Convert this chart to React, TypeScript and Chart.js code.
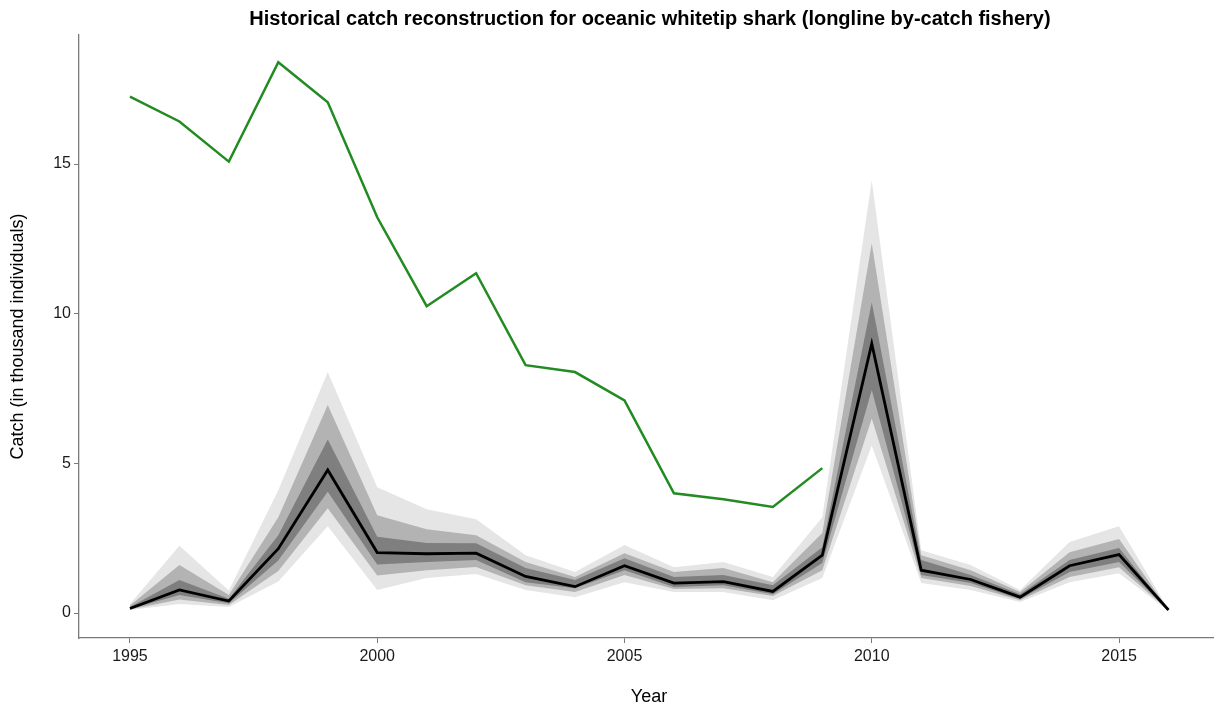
import React, { useEffect, useRef } from "react";
import { Chart, registerables } from "chart.js";

Chart.register(...registerables);

const years = [1995, 1996, 1997, 1998, 1999, 2000, 2001, 2002, 2003, 2004, 2005, 2006, 2007, 2008, 2009, 2010, 2011, 2012, 2013, 2014, 2015, 2016];

const median = [0.15, 0.77, 0.4, 2.15, 4.78, 2.02, 1.98, 2.0, 1.22, 0.88, 1.58, 1.0, 1.05, 0.72, 1.93, 9.0, 1.43, 1.12, 0.53, 1.58, 1.95, 0.1];

const lightUpper = [0.3, 2.25, 0.75, 4.1, 8.05, 4.2, 3.47, 3.13, 1.93, 1.37, 2.27, 1.53, 1.7, 1.2, 3.2, 14.45, 2.1, 1.6, 0.77, 2.37, 2.9, 0.12];
const mediumUpper = [0.25, 1.6, 0.6, 3.2, 6.95, 3.27, 2.8, 2.6, 1.7, 1.2, 2.0, 1.37, 1.5, 1.03, 2.67, 12.35, 1.93, 1.43, 0.7, 2.03, 2.47, 0.11];
const darkUpper = [0.2, 1.1, 0.48, 2.6, 5.8, 2.55, 2.34, 2.33, 1.5, 1.1, 1.83, 1.2, 1.27, 0.93, 2.2, 10.38, 1.77, 1.27, 0.63, 1.77, 2.17, 0.1];
const darkLower = [0.13, 0.6, 0.33, 1.75, 4.05, 1.62, 1.7, 1.77, 1.03, 0.83, 1.43, 0.87, 0.93, 0.63, 1.67, 7.45, 1.27, 1.0, 0.47, 1.37, 1.7, 0.09];
const mediumLower = [0.12, 0.45, 0.27, 1.4, 3.5, 1.25, 1.43, 1.54, 0.93, 0.7, 1.27, 0.8, 0.83, 0.57, 1.43, 6.5, 1.17, 0.9, 0.43, 1.2, 1.53, 0.08];
const lightLower = [0.1, 0.3, 0.2, 1.05, 2.9, 0.77, 1.17, 1.3, 0.77, 0.53, 1.03, 0.7, 0.7, 0.43, 1.17, 5.6, 1.0, 0.77, 0.37, 1.03, 1.33, 0.07];

const observedYears = [1995, 1996, 1997, 1998, 1999, 2000, 2001, 2002, 2003, 2004, 2005, 2006, 2007, 2008, 2009];
const observed = [17.25, 16.42, 15.08, 18.4, 17.06, 13.22, 10.25, 11.35, 8.28, 8.05, 7.1, 4.0, 3.8, 3.54, 4.84];

const xTicks = [1995, 2000, 2005, 2010, 2015];
const yTicks = [0, 5, 10, 15];

const titleText = "Historical catch reconstruction for oceanic whitetip shark (longline by-catch fishery)";
const xTitle = "Year";
const yTitle = "Catch (in thousand individuals)";

const FONT = "'Liberation Sans', Arial, Helvetica, sans-serif";

const pts = (xs: number[], ys: number[]) => xs.map((x, i) => ({ x, y: ys[i] }));

export default function App() {
  const ref = useRef<HTMLCanvasElement | null>(null);

  useEffect(() => {
    const canvas = ref.current;
    if (!canvas) return;

    const band = (data: number[], fillTarget: number | false, color: string, order: number) => ({
      data: pts(years, data),
      borderColor: "rgba(0,0,0,0)",
      borderWidth: 0,
      pointRadius: 0,
      backgroundColor: color,
      fill: fillTarget === false ? false : { target: fillTarget },
      tension: 0,
      order,
    });

    const textPlugin = {
      id: "texts",
      afterDraw(chart: any) {
        const ctx = chart.ctx;
        const area = chart.chartArea;
        ctx.save();
        ctx.fillStyle = "#000";
        ctx.textAlign = "center";
        ctx.textBaseline = "middle";
        ctx.font = `bold 20px ${FONT}`;
        ctx.fillText(titleText, 650, 19);
        ctx.font = `18px ${FONT}`;
        ctx.fillText(xTitle, 649, 697);
        ctx.translate(18, (area.top + area.bottom) / 2);
        ctx.rotate(-Math.PI / 2);
        ctx.fillText(yTitle, 0, 0);
        ctx.restore();
      },
    };

    const chart = new Chart(canvas, {
      type: "line",
      data: {
        datasets: [
          band(lightLower, false, "#E5E5E5", 10),
          band(lightUpper, 0, "#E5E5E5", 9),
          band(mediumLower, false, "#B3B3B3", 8),
          band(mediumUpper, 2, "#B3B3B3", 7),
          band(darkLower, false, "#7F7F7F", 6),
          band(darkUpper, 4, "#7F7F7F", 5),
          {
            data: pts(years, median),
            borderColor: "#000000",
            borderWidth: 2.8,
            pointRadius: 0,
            fill: false,
            tension: 0,
            order: 1,
          },
          {
            data: pts(observedYears, observed),
            borderColor: "#228B22",
            borderWidth: 2.5,
            pointRadius: 0,
            fill: false,
            tension: 0,
            order: 0,
          },
        ] as any,
      },
      options: {
        animation: false,
        responsive: false,
        maintainAspectRatio: false,
        layout: { padding: { top: 35, right: 1, left: 0, bottom: 0 } },
        plugins: {
          legend: { display: false },
          tooltip: { enabled: false },
          title: { display: false },
        },
        scales: {
          x: {
            type: "linear",
            min: 1993.97,
            max: 2016.9,
            afterFit: (s: any) => {
              s.height = 70;
            },
            afterBuildTicks: (s: any) => {
              s.ticks = xTicks.map((v) => ({ value: v }));
            },
            border: { display: true, color: "#7a7a7a", width: 1.3 },
            grid: { drawOnChartArea: false, drawTicks: true, tickLength: 5, color: "#7a7a7a" },
            ticks: {
              color: "#1a1a1a",
              font: { family: FONT, size: 16 },
              padding: 4,
              maxRotation: 0,
              callback: (v: any) => String(v),
            },
          },
          y: {
            type: "linear",
            min: -0.835,
            max: 19.31,
            afterFit: (s: any) => {
              s.width = 79;
            },
            afterBuildTicks: (s: any) => {
              s.ticks = yTicks.map((v) => ({ value: v }));
            },
            border: { display: true, color: "#7a7a7a", width: 1.3 },
            grid: { drawOnChartArea: false, drawTicks: true, tickLength: 5, color: "#7a7a7a" },
            ticks: {
              color: "#1a1a1a",
              font: { family: FONT, size: 16 },
              padding: 3,
              callback: (v: any) => String(v),
            },
          },
        },
      } as any,
      plugins: [textPlugin],
    });

    return () => chart.destroy();
  }, []);

  return (
    <div style={{ position: "fixed", left: 0, top: 0, width: 1214, height: 708, background: "#fff" }}>
      <canvas ref={ref} width={1214} height={708} style={{ width: 1214, height: 708, display: "block" }} />
    </div>
  );
}
